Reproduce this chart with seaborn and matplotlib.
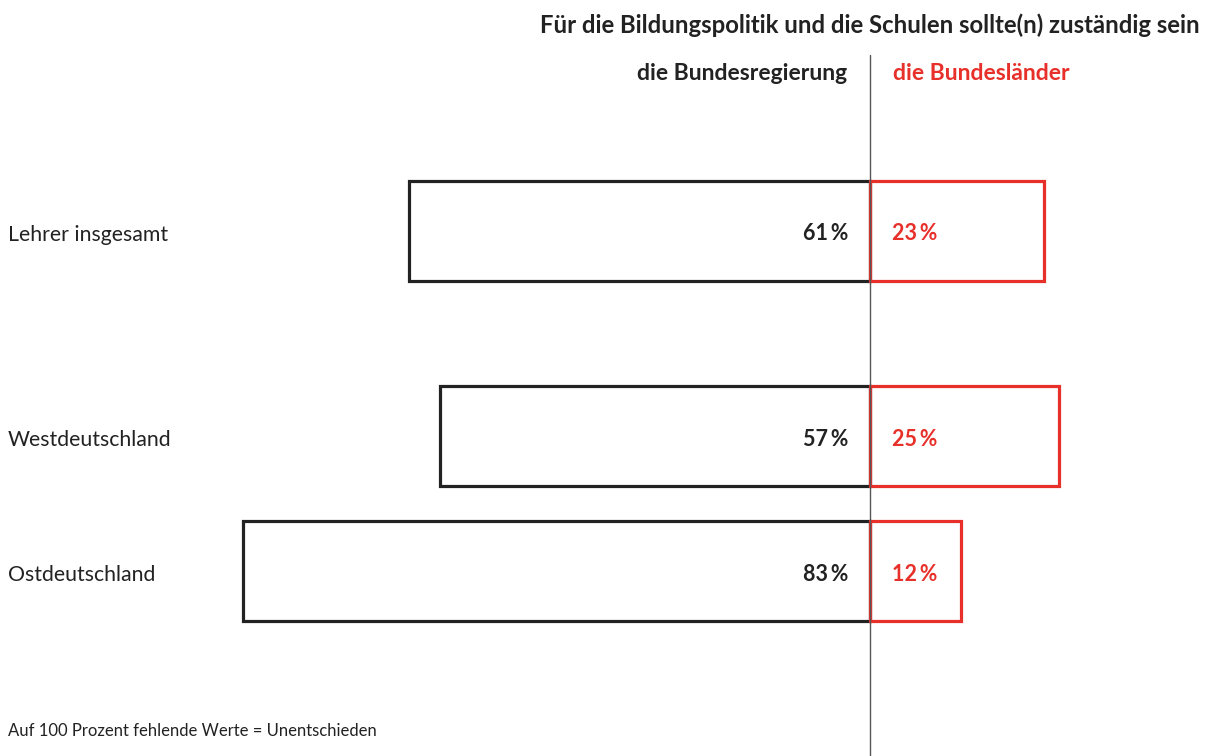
import pandas as pd
import matplotlib.pyplot as plt
import seaborn as sns

# Data
groups = ['Lehrer insgesamt', 'Westdeutschland', 'Ostdeutschland']
bund = [61, 57, 83]        # die Bundesregierung
laender = [23, 25, 12]     # die Bundesländer

title = 'Für die Bildungspolitik und die Schulen sollte(n) zuständig sein'
head_left = 'die Bundesregierung'
head_right = 'die Bundesländer'
note = 'Auf 100 Prozent fehlende Werte = Unentschieden'

# Layout (row centres in 100-px units, uneven spacing like the original)
row_pos = [2.31, 4.36, 5.71]
BLACK = '#222222'
RED = '#e8302a'

df = pd.DataFrame({
    'row': row_pos * 2,
    'value': [-v for v in bund] + laender,
    'side': [head_left] * 3 + [head_right] * 3,
})

sns.set_theme(style='white')
plt.rcParams['font.family'] = ['Lato', 'DejaVu Sans']

fig = plt.figure(figsize=(12.08, 7.56), dpi=100)
ax = fig.add_axes([0, 0, 1, 1])

sns.barplot(
    data=df, x='value', y='row', hue='side', orient='h',
    native_scale=True, dodge=False, fill=False,
    palette={head_left: BLACK, head_right: RED},
    width=1.0 / 1.35, linewidth=2.3, errorbar=None, legend=False, ax=ax,
)

ax.set_xlim(-870 / 7.55, 338 / 7.55)
ax.set_ylim(7.56, 0)
ax.axis('off')

# centre line
ax.plot([0, 0], [0.55, 7.56], color='#555555', lw=1.0, zorder=5)

# value labels
for y, b, l in zip(row_pos, bund, laender):
    ax.text(-2.9, y + 0.03, f'{b}\u2009%', ha='right', va='center',
            fontsize=15.5, fontweight='bold', color=BLACK)
    ax.text(2.9, y + 0.03, f'{l}\u2009%', ha='left', va='center',
            fontsize=15.5, fontweight='bold', color=RED)

# row labels
for y, g in zip(row_pos, groups):
    ax.text(8 / 1208, 1 - (y + 0.04) / 7.56, g, transform=fig.transFigure,
            ha='left', va='center', fontsize=15.3, color=BLACK)

# headers
fig.text(1200 / 1208, 1 - 25 / 756, title, ha='right', va='center',
         fontsize=17.2, fontweight='bold', color=BLACK)
fig.text(847 / 1208, 1 - 74 / 756, head_left, ha='right', va='center',
         fontsize=16.5, fontweight='bold', color=BLACK)
fig.text(893 / 1208, 1 - 74 / 756, head_right, ha='left', va='center',
         fontsize=16.5, fontweight='bold', color=RED)

fig.text(8 / 1208, 1 - 731 / 756, note, ha='left', va='center',
         fontsize=12, color=BLACK)

fig.savefig('out.png', dpi=100)
